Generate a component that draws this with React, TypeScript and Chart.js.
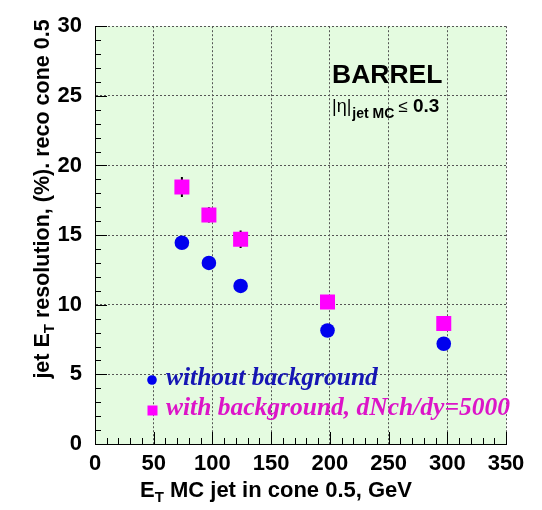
import React, { useEffect, useRef } from 'react';
import { Chart, registerables } from 'chart.js';

Chart.register(...registerables);

// ---- data ----
const jetEnergies = [74, 97, 124, 198, 297];
const resolutionWithout = [14.45, 13.0, 11.35, 8.15, 7.2];
const resolutionWith = [18.45, 16.45, 14.7, 10.2, 8.65];
const resolutionWithErr = [0.72, 0.55, 0.63, 0.3, 0.3];
const seriesLabels = ['without background', 'with background, dNch/dy=5000'];
const xRange = [0, 350];
const yRange = [0, 30];

const SANS = '"Liberation Sans", Arial, sans-serif';
const SERIF = '"Liberation Serif", "Times New Roman", serif';

type Run = { text: string; font: string; dy?: number; dx?: number };

function drawRuns(ctx: CanvasRenderingContext2D, x: number, y: number, runs: Run[], align: 'left' | 'center') {
  let total = 0;
  for (const r of runs) {
    ctx.font = r.font;
    total += ctx.measureText(r.text).width + (r.dx || 0);
  }
  let cx = align === 'center' ? x - total / 2 : x;
  ctx.textAlign = 'left';
  ctx.textBaseline = 'alphabetic';
  for (const r of runs) {
    ctx.font = r.font;
    cx += r.dx || 0;
    ctx.fillText(r.text, cx, y + (r.dy || 0));
    cx += ctx.measureText(r.text).width;
  }
}

const decorPlugin = {
  id: 'decor',
  beforeDraw(chart: any) {
    const { ctx, chartArea: a } = chart;
    ctx.save();
    ctx.fillStyle = '#e4fbe0';
    ctx.fillRect(a.left, a.top, a.right - a.left, a.bottom - a.top);
    ctx.restore();
  },
  beforeDatasetsDraw(chart: any) {
    const { ctx, chartArea: a } = chart;
    const xs = chart.scales.x;
    const ys = chart.scales.y;
    ctx.save();
    ctx.strokeStyle = '#000';
    ctx.lineWidth = 1;
    ctx.beginPath();
    for (let v = xRange[0]; v <= xRange[1]; v += 10) {
      const len = v % 50 === 0 ? 12 : 6;
      const px = Math.round(xs.getPixelForValue(v)) + 0.5;
      ctx.moveTo(px, a.bottom);
      ctx.lineTo(px, a.bottom - len);
    }
    for (let v = yRange[0]; v <= yRange[1]; v += 1) {
      const len = v % 5 === 0 ? 12 : 6;
      const py = Math.round(ys.getPixelForValue(v)) + 0.5;
      ctx.moveTo(a.left, py);
      ctx.lineTo(a.left + len, py);
    }
    ctx.stroke();
    // error bars
    ctx.lineWidth = 2;
    ctx.beginPath();
    jetEnergies.forEach((e, i) => {
      const px = xs.getPixelForValue(e);
      ctx.moveTo(px, ys.getPixelForValue(resolutionWith[i] - resolutionWithErr[i]));
      ctx.lineTo(px, ys.getPixelForValue(resolutionWith[i] + resolutionWithErr[i]));
    });
    ctx.stroke();
    ctx.restore();
  },
  afterDraw(chart: any) {
    const { ctx } = chart;
    ctx.save();
    // legend inside plot
    ctx.fillStyle = '#0000ee';
    ctx.beginPath();
    ctx.arc(152, 380, 4.8, 0, Math.PI * 2);
    ctx.fill();
    ctx.fillStyle = '#ff00ff';
    ctx.fillRect(147.5, 405.5, 10, 10);
    ctx.fillStyle = '#1616b4';
    drawRuns(ctx, 166, 385, [{ text: seriesLabels[0], font: `italic bold 25.5px ${SERIF}` }], 'left');
    ctx.fillStyle = '#dc14c8';
    drawRuns(ctx, 166, 415, [{ text: seriesLabels[1], font: `italic bold 25.5px ${SERIF}` }], 'left');

    // BARREL annotation
    ctx.fillStyle = '#000';
    drawRuns(ctx, 332, 83, [{ text: 'BARREL', font: `bold 26.5px ${SANS}` }], 'left');
    drawRuns(ctx, 332, 112, [
      { text: '|η|', font: `18px ${SANS}` },
      { text: 'jet MC', font: `bold 14px ${SANS}`, dy: 6, dx: 1 },
      { text: '≤', font: `17px ${SANS}`, dx: 4 },
      { text: ' 0.3', font: `bold 19px ${SANS}` },
    ], 'left');

    // x axis title
    drawRuns(ctx, 276, 497, [
      { text: 'E', font: `bold 22px ${SANS}` },
      { text: 'T', font: `bold 15px ${SANS}`, dy: 5 },
      { text: ' MC jet in cone 0.5, GeV', font: `bold 22px ${SANS}` },
    ], 'center');

    // y axis title
    ctx.translate(41, 199);
    ctx.rotate(-Math.PI / 2);
    drawRuns(ctx, 0, 8, [
      { text: 'jet E', font: `bold 21.5px ${SANS}` },
      { text: 'T', font: `bold 15px ${SANS}`, dy: 5 },
      { text: ' resolution, (%). reco cone 0.5', font: `bold 21.5px ${SANS}` },
    ], 'center');
    ctx.restore();
  },
};

export default function App() {
  const ref = useRef<HTMLCanvasElement | null>(null);
  useEffect(() => {
    if (!ref.current) return;
    const chart = new Chart(ref.current, {
      type: 'scatter',
      data: {
        datasets: [
          {
            label: seriesLabels[0],
            data: jetEnergies.map((x, i) => ({ x, y: resolutionWithout[i] })),
            pointStyle: 'circle',
            pointRadius: 7.3,
            backgroundColor: '#0000ee',
            borderColor: '#0000ee',
            borderWidth: 0,
          },
          {
            label: seriesLabels[1],
            data: jetEnergies.map((x, i) => ({ x, y: resolutionWith[i] })),
            pointStyle: 'rect',
            pointRadius: 10.6,
            backgroundColor: '#ff00ff',
            borderColor: '#ff00ff',
            borderWidth: 0,
          },
        ],
      },
      options: {
        responsive: false,
        animation: false,
        devicePixelRatio: 1,
        layout: { padding: { top: 12, right: 36, left: 0, bottom: 0 } },
        plugins: { legend: { display: false }, tooltip: { enabled: false } },
        scales: {
          x: {
            type: 'linear',
            min: xRange[0],
            max: xRange[1],
            afterFit: (s: any) => { s.height = 66; },
            ticks: {
              stepSize: 50,
              padding: 7,
              color: '#000',
              font: { family: SANS, size: 22, weight: 'bold' },
            },
            grid: { color: '#555', lineWidth: 1, drawTicks: false },
            border: { display: true, color: '#000', width: 1, dash: [2, 2] },
          },
          y: {
            type: 'linear',
            min: yRange[0],
            max: yRange[1],
            afterFit: (s: any) => { s.width = 95; },
            ticks: {
              stepSize: 5,
              padding: 13,
              color: '#000',
              font: { family: SANS, size: 22, weight: 'bold' },
            },
            grid: { color: '#555', lineWidth: 1, drawTicks: false },
            border: { display: true, color: '#000', width: 1, dash: [2, 2] },
          },
        },
      },
      plugins: [decorPlugin],
    } as any);
    return () => chart.destroy();
  }, []);
  return (
    <div style={{ position: 'fixed', left: 0, top: 0, width: 542, height: 510, background: '#fff' }}>
      <canvas ref={ref} width={542} height={510} />
    </div>
  );
}
